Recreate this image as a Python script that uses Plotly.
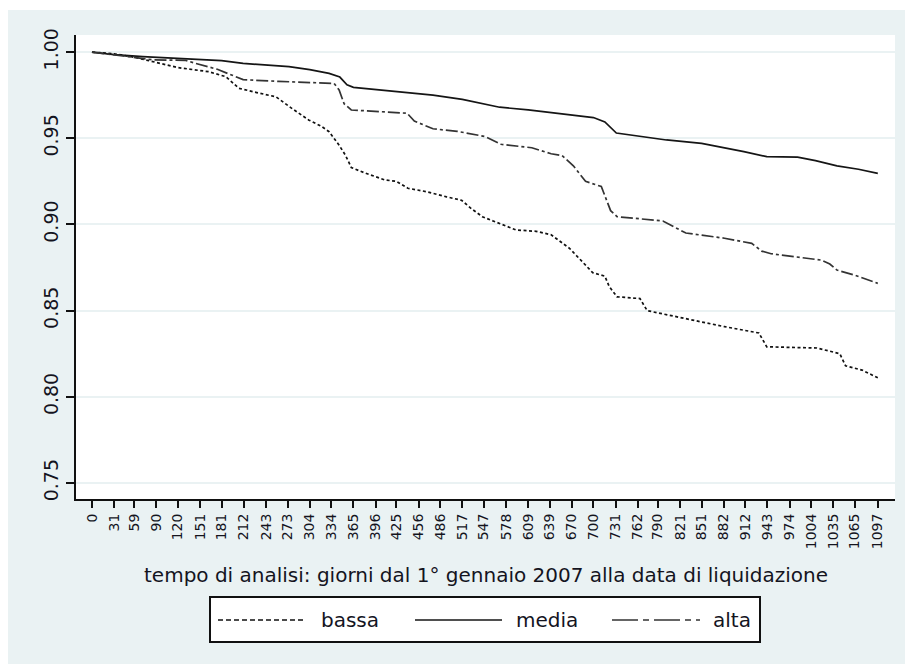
import plotly.graph_objects as go

# Kaplan-Meier style survival estimates by class (days since 1 Jan 2007)
bassa_days = [0, 31, 59, 94, 120, 163, 187, 197, 205, 230, 257, 280, 303, 320, 331, 345, 354, 362,
              380, 409, 425, 441, 467, 495, 516, 530, 545, 560, 592, 620, 641, 667, 685, 699, 716,
              722, 733, 765, 775, 818, 850, 883, 931, 942, 1012, 1044, 1052, 1075, 1097]
bassa_surv = [1.000, 0.999, 0.997, 0.9936, 0.991, 0.9886, 0.9857, 0.982, 0.979, 0.9765, 0.974, 0.967,
              0.9605, 0.957, 0.9538, 0.946, 0.940, 0.933, 0.930, 0.9258, 0.925, 0.921, 0.919, 0.916,
              0.914, 0.909, 0.9045, 0.902, 0.8968, 0.896, 0.894, 0.886, 0.878, 0.872, 0.870, 0.864,
              0.858, 0.857, 0.850, 0.8465, 0.8435, 0.8407, 0.837, 0.829, 0.8283, 0.825, 0.818, 0.8155,
              0.811]

media_days = [0, 31, 71, 120, 155, 181, 211, 243, 275, 304, 331, 346, 356, 365, 400, 440, 476, 517,
              569, 609, 650, 680, 700, 716, 722, 732, 802, 851, 910, 942, 985, 1010, 1040, 1070, 1097]
media_surv = [1.000, 0.9985, 0.9973, 0.9963, 0.9958, 0.9950, 0.9934, 0.9925, 0.9915, 0.9898, 0.9876,
              0.9855, 0.9810, 0.9795, 0.978, 0.9765, 0.975, 0.9725, 0.968, 0.9665, 0.9645, 0.963,
              0.962, 0.9595, 0.957, 0.953, 0.949, 0.947, 0.9422, 0.9393, 0.939, 0.937, 0.934, 0.932,
              0.9296]

alta_days = [0, 31, 85, 131, 145, 175, 201, 211, 260, 300, 338, 345, 352, 362, 400, 440, 450, 476,
             510, 549, 571, 614, 641, 656, 672, 689, 711, 718, 724, 733, 797, 829, 883, 921, 935, 948,
             1018, 1030, 1040, 1065, 1097]
alta_surv = [1.000, 0.9985, 0.9955, 0.9952, 0.9934, 0.990, 0.9857, 0.984, 0.983, 0.9822, 0.9818,
             0.978, 0.970, 0.9664, 0.9655, 0.9645, 0.960, 0.9555, 0.954, 0.951, 0.9465, 0.9445,
             0.941, 0.940, 0.934, 0.925, 0.922, 0.914, 0.908, 0.9045, 0.902, 0.895, 0.892, 0.889,
             0.8845, 0.883, 0.8793, 0.877, 0.8735, 0.8705, 0.8658]

# Month-start tick positions
x_ticks = [0, 31, 59, 90, 120, 151, 181, 212, 243, 273, 304, 334, 365, 396, 425, 456, 486, 517, 547,
           578, 609, 639, 670, 700, 731, 762, 790, 821, 851, 882, 912, 943, 974, 1004, 1035, 1065, 1097]
y_ticks = [0.75, 0.80, 0.85, 0.90, 0.95, 1.00]
y_labels = ["0.75", "0.80", "0.85", "0.90", "0.95", "1.00"]

series_names = ["bassa", "media", "alta"]

FONT = "DejaVu Sans"
TXT = "#14141e"
BG = "#EAF2F3"

W, H = 905, 666
L, R, T, B = 76, 895, 35, 499  # plot area in pixels


def px(x):
    return (x - L) / (R - L)


def py(y):
    return (B - y) / (B - T)


styles = {
    "bassa": dict(color="#111111", width=1.7, dash="3px,2.5px"),
    "media": dict(color="#151515", width=1.7, dash="solid"),
    "alta": dict(color="#333333", width=1.7, dash="12px,3px,3px,3px"),
}

fig = go.Figure()
for name, xs, ys in [("bassa", bassa_days, bassa_surv),
                     ("media", media_days, media_surv),
                     ("alta", alta_days, alta_surv)]:
    fig.add_trace(go.Scatter(x=xs, y=ys, mode="lines", name=name,
                             line=styles[name], showlegend=False))

shapes = [
    # outer graph region
    dict(type="rect", xref="paper", yref="paper", layer="below",
         x0=px(8), x1=px(910), y0=py(664), y1=py(10),
         fillcolor=BG, line=dict(width=0)),
    # plot region
    dict(type="rect", xref="paper", yref="paper", layer="below",
         x0=0, x1=1, y0=0, y1=1, fillcolor="white", line=dict(width=0)),
    # legend box
    dict(type="rect", xref="paper", yref="paper",
         x0=px(210), x1=px(760), y0=py(642), y1=py(597),
         fillcolor="white", line=dict(color="#111111", width=2)),
]

annotations = [
    dict(text="tempo di analisi: giorni dal 1° gennaio 2007 alla data di liquidazione",
         xref="paper", yref="paper", x=px(486), y=py(575), xanchor="center", yanchor="middle",
         showarrow=False, font=dict(family=FONT, size=20, color=TXT)),
]

legend_items = [
    ("bassa", 218, 305, 319, "5px,3px"),
    ("media", 415, 502, 514, "solid"),
    ("alta", 612, 700, 711, "26px,5px,6px,5px"),
]
ly = 620
for name, x0, x1, tx, dash in legend_items:
    shapes.append(dict(type="line", xref="paper", yref="paper",
                       x0=px(x0), x1=px(x1), y0=py(ly), y1=py(ly),
                       line=dict(color=styles[name]["color"], width=1.7, dash=dash)))
    annotations.append(dict(text=name, xref="paper", yref="paper", x=px(tx), y=py(ly),
                            xanchor="left", yanchor="middle", showarrow=False,
                            font=dict(family=FONT, size=20, color=TXT)))

fig.update_layout(
    width=W, height=H,
    margin=dict(l=L, r=W - R, t=T, b=H - B, pad=0),
    paper_bgcolor="white",
    plot_bgcolor="white",
    shapes=shapes,
    annotations=annotations,
    showlegend=False,
    xaxis=dict(
        range=[-22.3, 1121], tickmode="array", tickvals=x_ticks,
        ticktext=[str(v) for v in x_ticks], tickangle=-90,
        tickfont=dict(family=FONT, size=14, color=TXT),
        ticks="outside", ticklen=7, tickwidth=1.5, tickcolor="#111111",
        showline=True, linecolor="#111111", linewidth=2,
        showgrid=False, zeroline=False,
    ),
    yaxis=dict(
        range=[0.7407, 1.0099], tickmode="array", tickvals=y_ticks, ticktext=y_labels,
        tickangle=-90, tickfont=dict(family=FONT, size=19, color=TXT),
        ticks="outside", ticklen=8, tickwidth=1.5, tickcolor="#111111",
        showline=True, linecolor="#111111", linewidth=2,
        showgrid=True, gridcolor=BG, gridwidth=1.5, zeroline=False,
    ),
)

fig.write_html("out.html")
